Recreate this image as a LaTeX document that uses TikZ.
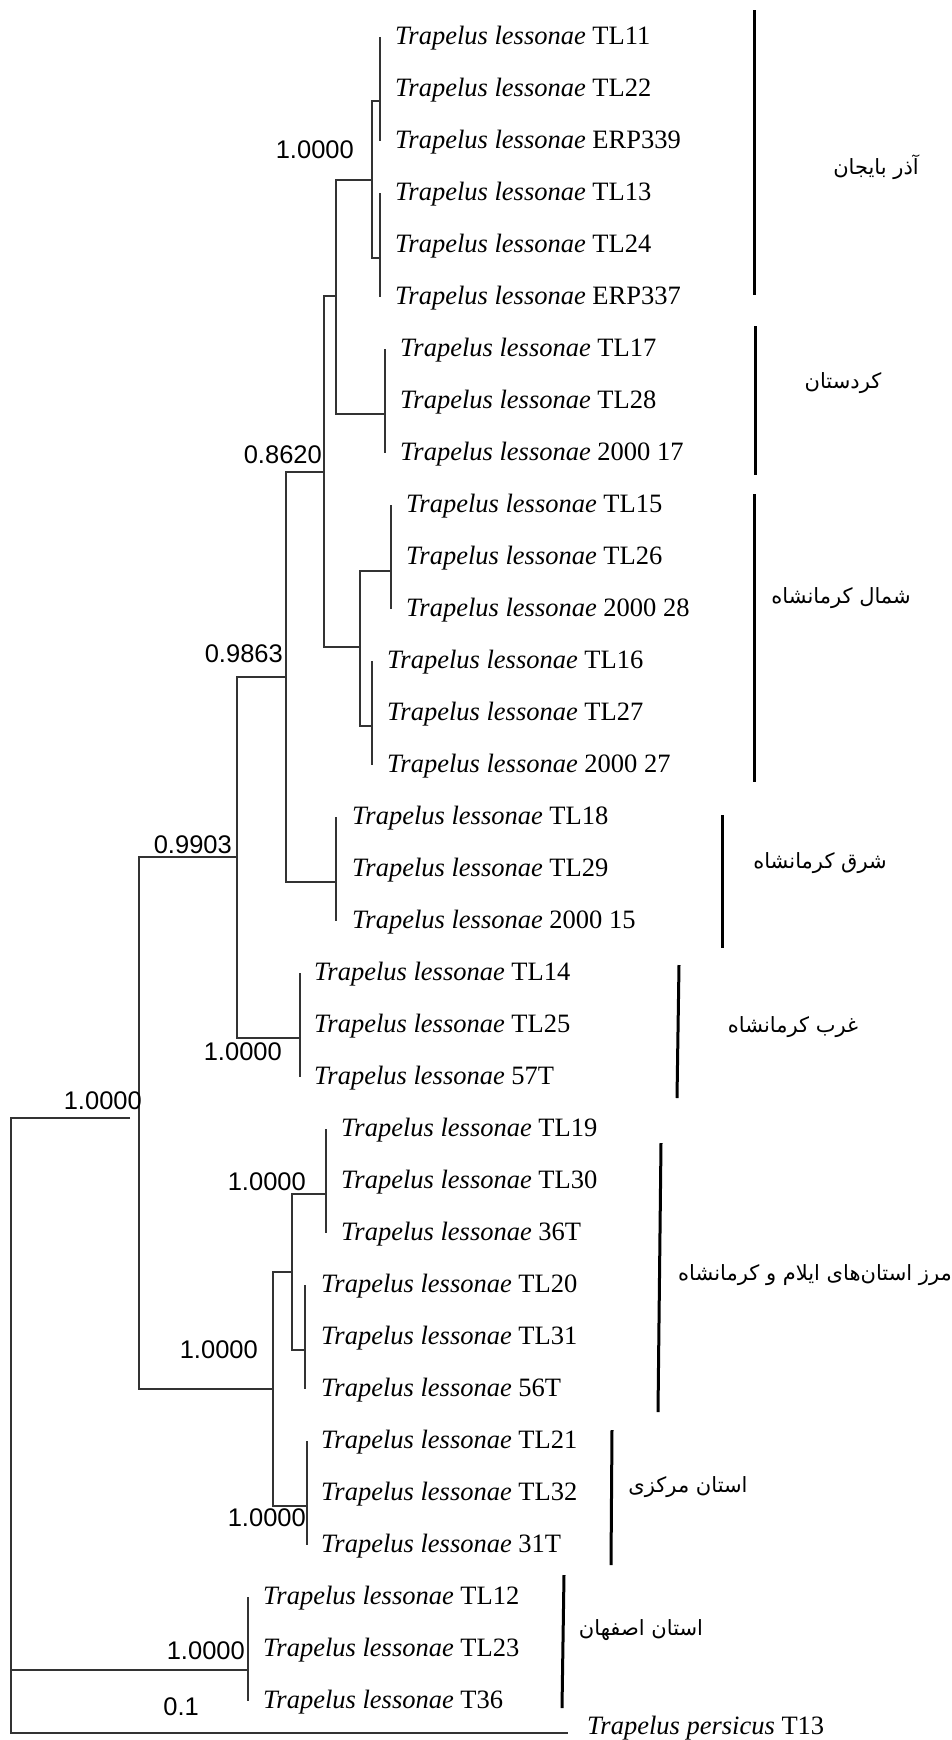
\documentclass[tikz,border=0pt]{standalone}
\usepackage{fontspec}
\setmainfont{Liberation Serif}
\newfontfamily\numfont{Liberation Sans}
\newfontfamily\arabicfont[Script=Arabic]{DejaVu Sans}
\TeXXeTstate=1
\newcommand\tlab[1]{{\itshape Trapelus lessonae} #1}
\begin{document}
\begin{tikzpicture}[x=1pt,y=-1pt,
  br/.style={line width=1.1pt, draw=black!80},
  groupbar/.style={line width=3pt, draw=black},
  taxon/.style={anchor=base west, inner sep=0pt, font=\fontsize{26.5}{30}\selectfont},
  boot/.style={anchor=base east, inner sep=0pt, font=\numfont\fontsize{25.5}{30}\selectfont},
  region/.style={inner sep=0pt, font=\arabicfont\fontsize{21}{25}\selectfont}]
\useasboundingbox[fill=white] (0,0) rectangle (952,1740);

% leaves: index / x of tip line / x of text / label
\foreach \i/\xv/\xt/\lab in {
  0/380/395/TL11, 1/380/395/TL22, 2/380/395/ERP339,
  3/380/395/TL13, 4/380/395/TL24, 5/380/395/ERP337,
  6/385/400/TL17, 7/385/400/TL28, 8/385/400/2000 17,
  9/391/406/TL15, 10/391/406/TL26, 11/391/406/2000 28,
  12/372/387/TL16, 13/372/387/TL27, 14/372/387/2000 27,
  15/336/352/TL18, 16/336/352/TL29, 17/336/352/2000 15,
  18/300/314/TL14, 19/300/314/TL25, 20/300/314/57T,
  21/326/341/TL19, 22/326/341/TL30, 23/326/341/36T,
  24/305/321/TL20, 25/305/321/TL31, 26/305/321/56T,
  27/307/321/TL21, 28/307/321/TL32, 29/307/321/31T,
  30/248/263/TL12, 31/248/263/TL23, 32/248/263/T36}{
  \coordinate (p\i) at (\xv,37+52*\i);
  \node[taxon] (t\i) at (\xt,44.5+52*\i) {\tlab{\lab}};
}
\node[taxon] (tog) at (587,1734) {{\itshape Trapelus persicus} T13};

% tip clusters
\draw[br] (p0) -- (p2);
\draw[br] (p3) -- (p5);
\draw[br] (p6) -- (p8);
\draw[br] (p9) -- (p11);
\draw[br] (p12) -- (p14);
\draw[br] (p15) -- (p17);
\draw[br] (p18) -- (p20);
\draw[br] (p21) -- (p23);
\draw[br] (p24) -- (p26);
\draw[br] (p27) -- (p29);
\draw[br] (p30) -- (p32);

% attachment points on tip clusters
\coordinate (a1j) at (380,101);
\coordinate (a2j) at (380,258);
\coordinate (kj) at (385,414);
\coordinate (s1j) at (391,571);
\coordinate (s2j) at (372,726);
\coordinate (shj) at (336,882);
\coordinate (ghj) at (300,1038);
\coordinate (m1j) at (326,1194);
\coordinate (m2j) at (305,1350);
\coordinate (mkj) at (307,1506);
\coordinate (isj) at (248,1670);
\coordinate (ogj) at (568,1733);

% internal nodes
\coordinate (nA) at (372,180);
\coordinate (nAK) at (336,296);
\coordinate (nS) at (360,647);
\coordinate (nAKS) at (324,472);
\coordinate (nAKSSh) at (286,677);
\coordinate (nUp) at (237,857);
\coordinate (nM) at (292,1272);
\coordinate (nLow) at (273,1389);
\coordinate (nIn) at (139,1118);
\coordinate (nInStem) at (130,1118);
\coordinate (nR) at (11,1670);

\draw[br] (a1j) -| (nA) |- (a2j);
\draw[br] (nA) -| (nAK) |- (kj);
\draw[br] (s1j) -| (nS) |- (s2j);
\draw[br] (nAK) -| (nAKS) |- (nS);
\draw[br] (nAKS) -| (nAKSSh) |- (shj);
\draw[br] (nAKSSh) -| (nUp) |- (ghj);
\draw[br] (m1j) -| (nM) |- (m2j);
\draw[br] (nM) -| (nLow) |- (mkj);
\draw[br] (nUp) -| (nIn) |- (nLow);
\draw[br] (nInStem) -| (nR) |- (isj);
\draw[br] (nR) |- (ogj);

% support values
\node[boot] (b1) at (354,158) {1.0000};
\node[boot] (b2) at (322,463) {0.8620};
\node[boot] (b3) at (283,662) {0.9863};
\node[boot] (b4) at (232,853) {0.9903};
\node[boot] (b5) at (282,1060) {1.0000};
\node[boot] (b6) at (142,1109) {1.0000};
\node[boot] (b7) at (306,1190) {1.0000};
\node[boot] (b8) at (258,1358) {1.0000};
\node[boot] (b9) at (306,1526) {1.0000};
\node[boot] (b10) at (245,1659) {1.0000};
\node[boot] (b11) at (199,1715) {0.1};

% group bars
\draw[groupbar] (754,10) -- (754,295);
\draw[groupbar] (755,326) -- (755,475);
\draw[groupbar] (754,494) -- (754,782);
\draw[groupbar] (722,815) -- (722,948);
\draw[groupbar] (679,965) -- (677,1098);
\draw[groupbar] (661,1143) -- (658,1412);
\draw[groupbar] (612,1430) -- (611,1565);
\draw[groupbar] (564,1575) -- (562,1708);

% region names
\node[region] (r1) at (876,167) {\beginR آذر بایجان\endR};
\node[region] (r2) at (843,383) {\beginR کردستان\endR};
\node[region] (r3) at (841,598) {\beginR شمال کرمانشاه\endR};
\node[region] (r4) at (820,863) {\beginR شرق کرمانشاه\endR};
\node[region] (r5) at (793,1027) {\beginR غرب کرمانشاه\endR};
\node[region] (r6) at (815,1275) {\beginR مرز استان^^^^200cهای ایلام و کرمانشاه\endR};
\node[region] (r7) at (688,1487) {\beginR استان مرکزی\endR};
\node[region] (r8) at (641,1630) {\beginR استان اصفهان\endR};
\end{tikzpicture}
\end{document}
